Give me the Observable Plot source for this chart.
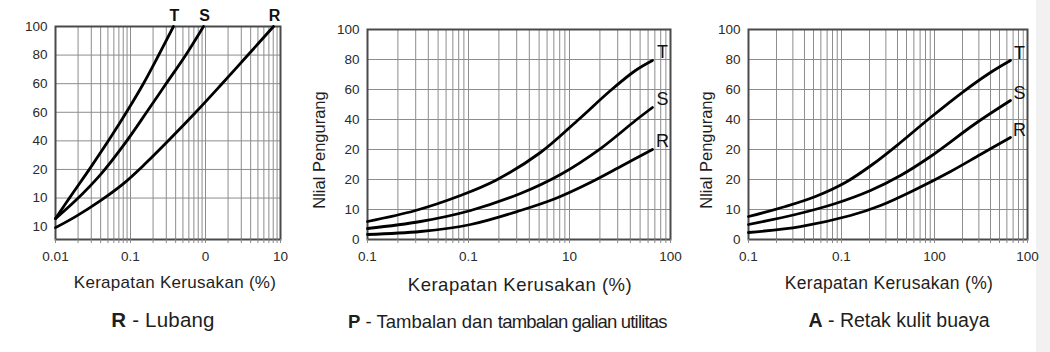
<!DOCTYPE html>
<html>
<head>
<meta charset="utf-8">
<script src="https://cdn.jsdelivr.net/npm/d3@7"></script>
<script src="https://cdn.jsdelivr.net/npm/@observablehq/plot@0.6"></script>
<style>
html, body { margin: 0; padding: 0; background: #fff; }
#wrap { position: relative; width: 1050px; height: 352px; overflow: hidden;
        font-family: "Liberation Sans", Arial, sans-serif; color: #1e1e1e; background: #fff; }
.chart { position: absolute; top: 0; }
.t { position: absolute; white-space: nowrap; transform: translate(-50%, -50%); }
.yt { position: absolute; white-space: nowrap; font-size: 16.5px; transform: translate(-50%, -50%) rotate(-90deg); }
.edge { position: absolute; right: 0; top: 0; width: 14px; height: 352px; background: #f1f1f1; }
</style>
</head>
<body>
<div id="wrap"><div class="edge"></div></div>
<script>
// ---------- DATA ----------
const seriesNames = ["T", "S", "R"];

// Chart 1: R - Lubang  (x = density %, y = position on the printed grid, 0 = lowest label)
const lubangXTicks = [0.01, 0.1, 1, 10];
const lubangXLabels = ["0.01", "0.1", "0", "10"];
const lubangYTicks = [0, 1, 2, 3, 4, 5, 6, 7];
const lubangYLabels = ["10", "10", "20", "40", "60", "60", "80", "100"];
const lubangT_x = [0.01, 0.0158, 0.0293, 0.0541, 0.0912, 0.149, 0.236, 0.374];
const lubangT_y = [0.28, 1.05, 2.065, 3.115, 4.06, 5.005, 5.985, 7.0];
const lubangS_x = [0.01, 0.0185, 0.0398, 0.0858, 0.163, 0.293, 0.541, 0.94];
const lubangS_y = [0.28, 0.91, 1.82, 2.94, 3.99, 4.97, 5.985, 7.0];
const lubangR_x = [0.01, 0.0185, 0.0398, 0.0807, 0.158, 0.341, 0.736, 1.58, 3.63, 8.07];
const lubangR_y = [-0.035, 0.35, 0.91, 1.505, 2.205, 3.08, 3.99, 4.935, 5.985, 7.0];

// Chart 2: P - Tambalan
const tambalanXTicks = [0.1, 1, 10, 100];
const tambalanXLabels = ["0.1", "0.1", "10", "100"];
const tambalanYTicks = [0, 1, 2, 3, 4, 5, 6, 7];
const tambalanYLabels = ["0", "10", "20", "20", "40", "60", "80", "100"];
const tambalanT_x = [0.1, 0.299, 0.833, 1.85, 5.16, 12.0, 25.5, 45.0, 66.3];
const tambalanT_y = [0.6, 0.967, 1.467, 1.967, 2.9, 3.967, 4.967, 5.633, 5.967];
const tambalanS_x = [0.1, 0.335, 1.05, 3.27, 8.15, 20.3, 45.0, 66.3];
const tambalanS_y = [0.367, 0.6, 0.967, 1.533, 2.167, 3.033, 3.967, 4.4];
const tambalanR_x = [0.1, 0.335, 1.05, 3.27, 7.27, 16.1, 33.5, 66.3];
const tambalanR_y = [0.167, 0.267, 0.5, 0.967, 1.367, 1.9, 2.467, 3.0];

// Chart 3: A - Retak kulit buaya
const retakXTicks = [0.1, 1, 10, 100];
const retakXLabels = ["0.1", "0.1", "100", "100"];
const retakYTicks = [0, 1, 2, 3, 4, 5, 6, 7];
const retakYLabels = ["0", "10", "20", "20", "40", "60", "80", "100"];
const retakT_x = [0.1, 0.25, 0.525, 1.1, 2.15, 4.31, 9.06, 20.5, 40.0, 65.6];
const retakT_y = [0.767, 1.1, 1.433, 1.9, 2.5, 3.233, 4.067, 4.933, 5.567, 5.967];
const retakS_x = [0.1, 0.32, 0.862, 2.05, 4.31, 9.06, 27.6, 65.6];
const retakS_y = [0.5, 0.833, 1.2, 1.633, 2.133, 2.767, 3.867, 4.633];
const retakR_x = [0.1, 0.362, 1.25, 2.63, 6.25, 14.9, 31.2, 65.6];
const retakR_y = [0.233, 0.433, 0.8, 1.133, 1.667, 2.267, 2.833, 3.4];

// ---------- BUILD ----------
function logGrid(lo, hi) {
  const out = [];
  const e0 = Math.round(Math.log10(lo)), e1 = Math.round(Math.log10(hi));
  for (let e = e0; e < e1; e++) for (let d = 1; d < 10; d++) out.push(+(d * Math.pow(10, e)).toPrecision(6));
  out.push(hi);
  return out;
}

function makeChart(cfg) {
  const rows = [];
  const ends = [];
  cfg.series.forEach((s, k) => {
    s.x.forEach((x, i) => rows.push({series: seriesNames[k], x, y: s.y[i]}));
    ends.push({series: seriesNames[k], x: s.x[s.x.length - 1], y: s.y[s.y.length - 1]});
  });
  const minor = logGrid(cfg.xDomain[0], cfg.xDomain[1]);
  const xfmt = d => {
    const i = cfg.xTicks.findIndex(t => Math.abs(t - d) / t < 1e-6);
    return i >= 0 ? cfg.xLabels[i] : "";
  };
  const yfmt = d => cfg.yLabels[cfg.yTicks.indexOf(d)];
  return Plot.plot({
    width: cfg.width, height: 260,
    marginLeft: cfg.ml, marginRight: cfg.mr, marginTop: cfg.mt, marginBottom: 21,
    style: {fontFamily: "'Liberation Sans', Arial, sans-serif", fontSize: "13.5px", background: "transparent", overflow: "visible"},
    x: {type: "log", domain: cfg.xDomain, label: null},
    y: {domain: cfg.yDomain, label: null},
    marks: [
      Plot.frame({fill: "white", stroke: "none"}),
      Plot.gridX(minor, {stroke: "#8d8d8d", strokeOpacity: 1, strokeWidth: 1}),
      Plot.gridY(cfg.yGrid, {stroke: "#8d8d8d", strokeOpacity: 1, strokeWidth: 1}),
      Plot.frame({stroke: "#4a4a4a", strokeWidth: 2}),
      Plot.line(rows, {x: "x", y: "y", z: "series", stroke: "#000", strokeWidth: 2.8, curve: "catmull-rom"}),
      Plot.text(ends, {x: "x", y: "y", text: "series", dx: cfg.ldx, dy: cfg.ldy, fontSize: cfg.lfs,
        fontWeight: cfg.lfw, fill: "#111", textAnchor: "middle"}),
      Plot.axisX(minor, {tickSize: 4, tickPadding: 8, stroke: "#888", fill: "#2a2a2a", fontSize: 13.5, tickFormat: xfmt, label: null}),
      Plot.axisY(cfg.yTicks, {tickSize: 0, tickPadding: 8, fill: "#2a2a2a", fontSize: 13.5, tickFormat: yfmt, label: null})
    ]
  });
}

const charts = [
  {left: 0, width: 300, ml: 55, mr: 20, mt: 26,
   xDomain: [0.01, 10], yDomain: [-0.45, 7], yGrid: [1, 2, 3, 4, 5, 6, 7],
   xTicks: lubangXTicks, xLabels: lubangXLabels, yTicks: lubangYTicks, yLabels: lubangYLabels,
   series: [{x: lubangT_x, y: lubangT_y}, {x: lubangS_x, y: lubangS_y}, {x: lubangR_x, y: lubangR_y}],
   ldx: 1, ldy: -11, lfs: 16, lfw: "bold"},
  {left: 300, width: 390, ml: 67, mr: 20, mt: 29,
   xDomain: [0.1, 100], yDomain: [0, 7], yGrid: [1, 2, 3, 4, 5, 6],
   xTicks: tambalanXTicks, xLabels: tambalanXLabels, yTicks: tambalanYTicks, yLabels: tambalanYLabels,
   series: [{x: tambalanT_x, y: tambalanT_y}, {x: tambalanS_x, y: tambalanS_y}, {x: tambalanR_x, y: tambalanR_y}],
   ldx: 10, ldy: -8, lfs: 18, lfw: "normal"},
  {left: 680, width: 370, ml: 68, mr: 23, mt: 29,
   xDomain: [0.1, 100], yDomain: [0, 7], yGrid: [1, 2, 3, 4, 5, 6],
   xTicks: retakXTicks, xLabels: retakXLabels, yTicks: retakYTicks, yLabels: retakYLabels,
   series: [{x: retakT_x, y: retakT_y}, {x: retakS_x, y: retakS_y}, {x: retakR_x, y: retakR_y}],
   ldx: 9, ldy: -7, lfs: 18, lfw: "normal"}
];

const wrap = document.getElementById("wrap");
charts.forEach(c => {
  const div = document.createElement("div");
  div.className = "chart";
  div.style.left = c.left + "px";
  div.appendChild(makeChart(c));
  wrap.appendChild(div);
});

function addText(html, x, y, css, cls) {
  const d = document.createElement("div");
  d.className = cls || "t";
  d.style.left = x + "px";
  d.style.top = y + "px";
  Object.assign(d.style, css || {});
  d.innerHTML = html;
  wrap.appendChild(d);
}
// axis titles
addText("Kerapatan Kerusakan (%)", 175, 283, {fontSize: "17px", letterSpacing: "0.3px"});
addText("Kerapatan Kerusakan (%)", 520, 285, {fontSize: "18.5px", letterSpacing: "0.5px"});
addText("Kerapatan Kerusakan (%)", 889, 283, {fontSize: "17.5px", letterSpacing: "0.3px"});
addText("Nlial Pengurang", 319, 150, {}, "yt");
addText("Nlial Pengurang", 706, 150, {}, "yt");
// captions
addText("<b>R</b> - Lubang", 163, 320, {fontSize: "20.5px", letterSpacing: "0.2px"});
addText("<b>P</b> - Tambalan dan <span style='letter-spacing:-0.8px'>tambalan galian utilitas</span>", 348, 322,
  {fontSize: "18.5px", transform: "translate(0,-50%)"});
addText("<b>A</b> - Retak kulit buaya", 899, 320, {fontSize: "19.5px"});
</script>
</body>
</html>
